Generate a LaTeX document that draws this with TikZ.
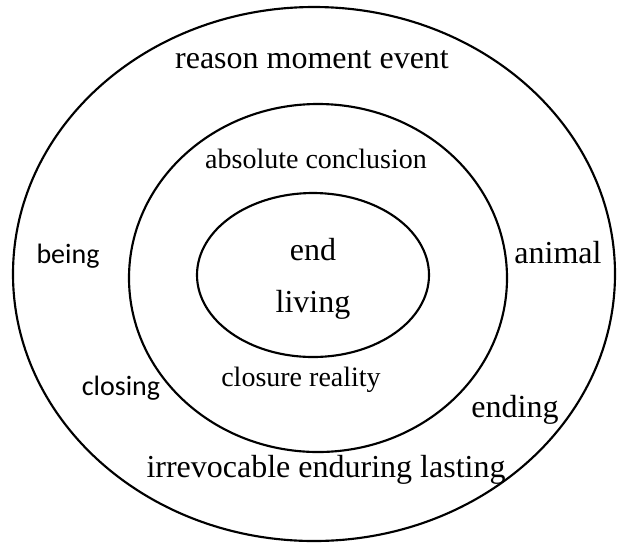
\documentclass[tikz,border=0pt]{standalone}
\usepackage{fontspec}
\setmainfont{Liberation Serif}
\newfontfamily\calib{Carlito}
\usepackage{tikz}

\begin{document}
\begin{tikzpicture}[x=0.75pt,y=-0.75pt]
\tikzstyle{ring}=[draw,line width=1.6pt]
\tikzstyle{every node}=[inner sep=0]
\tikzstyle{big}=[font=\fontsize{24}{28}\selectfont]
\tikzstyle{small}=[font=\fontsize{21}{25}\selectfont]
\tikzstyle{sans}=[font=\calib\fontsize{21}{25}\selectfont]
\useasboundingbox (0,0) rectangle (617,544);
% rings
\draw[ring] (314,274) ellipse [x radius=301, y radius=267];
\draw[ring] (318,278) ellipse [x radius=189, y radius=174];
\draw[ring] (313,275) ellipse [x radius=116, y radius=82];
% words
\node[big] (rme) at (312,60) {reason moment event};
\node[small] (abs) at (316,159) {absolute conclusion};
\node[big] (end) at (313,250) {end};
\node[big] (liv) at (313,305) {living};
\node[small] (clo) at (301,380) {closure reality};
\node[sans] (bei) at (68,256) {being};
\node[sans] (cls) at (121,388) {closing};
\node[big] (ani) at (558,253) {animal};
\node[big] (ndg) at (515,410) {ending};
\node[big] (irr) at (326,470) {irrevocable enduring lasting};
\end{tikzpicture}
\end{document}
